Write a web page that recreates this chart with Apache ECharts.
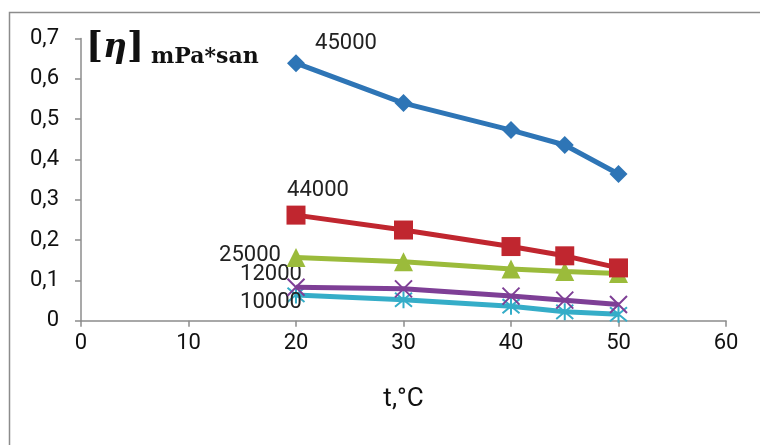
<!DOCTYPE html>
<html><head><meta charset="utf-8">
<script src="https://cdn.jsdelivr.net/npm/echarts@6/dist/echarts.min.js"></script>
<style>html,body{margin:0;padding:0;background:#fff}#c{width:760px;height:445px}</style>
</head><body><div id="c"></div>
<script>
var temps = [20, 30, 40, 45, 50];
var seriesNames = ['45000', '44000', '25000', '12000', '10000'];
var v45000 = [0.639, 0.540, 0.473, 0.436, 0.364];
var v44000 = [0.262, 0.225, 0.184, 0.161, 0.131];
var v25000 = [0.157, 0.146, 0.128, 0.122, 0.117];
var v12000 = [0.083, 0.079, 0.061, 0.051, 0.040];
var v10000 = [0.064, 0.052, 0.036, 0.022, 0.016];
var xTicks = [0, 10, 20, 30, 40, 50, 60];
var yTicks = [0, 0.1, 0.2, 0.3, 0.4, 0.5, 0.6, 0.7];

var values = [v45000, v44000, v25000, v12000, v10000];
var colors = ['#2E75B6', '#C0262F', '#9BBB3B', '#7E3F96', '#35ADC8'];
var crossPath = 'path://M0,0L10,10M10,0L0,10';
var starPath = 'path://M0,0L10,10M10,0L0,10M5,-1L5,11';
var symbols = ['diamond', 'rect', 'triangle', crossPath, starPath];
var symSizes = [18, 19, 19, 17, 17];
var labelOffsets = [[50, -20], [22, -25], [-46, -2], [-25, -13], [-25, 8]];
var font = 'Roboto, sans-serif';

var series = values.map(function (vals, i) {
  var isStroke = i >= 3;
  return {
    type: 'line',
    name: seriesNames[i],
    data: temps.map(function (t, j) { return [t, vals[j]]; }),
    symbol: symbols[i],
    symbolSize: symSizes[i],
    lineStyle: { color: colors[i], width: 5 },
    itemStyle: isStroke ? { color: 'rgba(0,0,0,0)', borderColor: colors[i], borderWidth: 2 } : { color: colors[i] },
    label: {
      show: true,
      position: 'inside',
      align: 'center',
      verticalAlign: 'middle',
      offset: labelOffsets[i],
      color: '#222',
      fontSize: 22,
      fontFamily: font,
      formatter: function (p) { return p.dataIndex === 0 ? p.seriesName : ''; }
    },
    emphasis: { disabled: true },
    animation: false,
    z: 10 - i
  };
});

var chart = echarts.init(document.getElementById('c'), null, { renderer: 'canvas' });
chart.setOption({
  backgroundColor: '#fff',
  animation: false,
  grid: { left: 81, right: 34, top: 38.6, bottom: 124.3, containLabel: false },
  xAxis: {
    type: 'value', min: xTicks[0], max: xTicks[xTicks.length - 1], interval: 10,
    name: 't,°C', nameLocation: 'middle', nameGap: 66,
    nameTextStyle: { fontSize: 26, color: '#111', fontFamily: font },
    axisLine: { show: true, lineStyle: { color: '#8c8c8c', width: 1.5 } },
    axisTick: { show: true, length: 6, lineStyle: { color: '#8c8c8c', width: 1.5 } },
    axisLabel: { fontSize: 22, color: '#111', margin: 12, fontFamily: font },
    splitLine: { show: false }
  },
  yAxis: {
    type: 'value', min: yTicks[0], max: yTicks[yTicks.length - 1], interval: 0.1,
    axisLine: { show: true, lineStyle: { color: '#8c8c8c', width: 1.5 } },
    axisTick: { show: true, length: 6, lineStyle: { color: '#8c8c8c', width: 1.5 } },
    axisLabel: { fontSize: 22, color: '#111', margin: 22, fontFamily: font,
      formatter: function (v) { return String(Math.round(v * 10) / 10).replace('.', ','); } },
    splitLine: { show: false }
  },
  graphic: [
    { type: 'rect', left: 7, top: 10, shape: { x: 0, y: 0, width: 800, height: 500 },
      style: { fill: 'none', stroke: '#8c8c8c', lineWidth: 1.5 }, silent: true, z: -1 },
    { type: 'text', left: 86, top: 30,
      style: {
        text: '{b|[}{e|η}{b|]}',
        rich: {
          b: { fontSize: 36, fontFamily: '"DejaVu Serif", serif', fontWeight: 'bold', fill: '#111' },
          e: { fontSize: 33, fontFamily: '"DejaVu Serif", serif', fontStyle: 'italic', fontWeight: 'bold', fill: '#111' }
        }
      }
    },
    { type: 'text', left: 151, top: 46,
      style: { text: 'mPa*san', fontSize: 22, fontFamily: '"DejaVu Serif", serif', fontWeight: 'bold', fill: '#111' } }
  ],
  series: series
});
</script></body></html>
